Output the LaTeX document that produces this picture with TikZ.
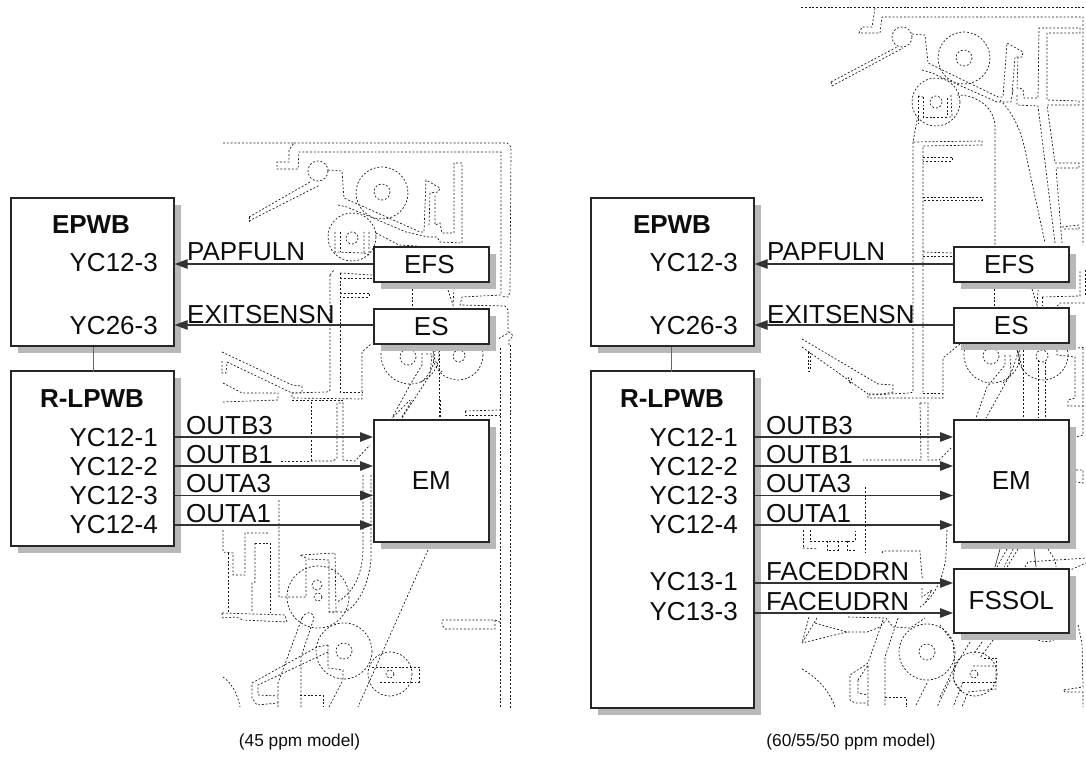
\documentclass[tikz,border=0pt]{standalone}
\usepackage{fontspec}
\setmainfont{Liberation Sans}
\usetikzlibrary{arrows.meta,calc}
\tikzset{
  px/.style={x=1pt,y=-1pt},
  panel/.style={draw=black!85,line width=1.6pt,fill=white},
  shadebox/.style={fill=black!28,draw=none},
  sig/.style={draw=black!80,line width=1.2pt,-{Triangle[length=13pt,width=9.5pt]}},
  lab/.style={inner sep=0pt,font=\fontsize{26}{26}\selectfont,text=black!95},
  capt/.style={inner sep=0pt,font=\fontsize{17.3}{20}\selectfont,text=black!95},
  mech/.style={draw=black!90,line width=.7pt,dash pattern=on 1.9pt off 1.9pt},
}
\newcommand{\boxat}[5]{% name x1 y1 x2 y2
  \fill[shadebox] (#2+8,#3+8) rectangle (#4+8,#5+8);
  \node[panel,anchor=north west,minimum width=#4pt-#2pt,minimum height=#5pt-#3pt,inner sep=0pt] (#1) at (#2,#3) {};
}
\begin{document}
\begin{tikzpicture}[px]
\useasboundingbox (0,0) rectangle (1086,759);
% left mechanism
\begin{scope}[mech]
\draw (223,143) -- (294,143) -- (289,150) -- (289,162) -- (277,162) -- (277,169) -- (298,169) -- (299,152) -- (501,152) -- (501,295) -- (462,297) -- (460,305) -- (505,306) -- (508,310) -- (508,332);
\draw (294,143) -- (507,143) -- (511,147) -- (510,292) -- (508,297) -- (501,296);
\draw (318,171) circle (10);
\draw (249,217) -- (310,182); \draw (249,221) -- (320,185); \draw (249,217) -- (249,221);
\draw (328,170) -- (342,171) -- (344,198) -- (420,232) -- (424,232) -- (426,180) -- (440,188) -- (438,192) -- (430,193) -- (429,227);
\draw (338,205) -- (347,207) -- (406,232) -- (428,237) -- (437,237) -- (440,242) -- (462,243) -- (462,163) -- (454,163) -- (454,233) -- (442,233) -- (440,223) -- (435,225) -- (435,195);
\draw (382,193) circle (26); \draw (382,192) circle (8);
\draw (352,237) circle (24); \draw (352,238) circle (6);
\draw (335,232) -- (335,252) -- (364,253) -- (364,232);
\draw (340,232) -- (340,252); \draw (369,232) -- (369,255) -- (364,253);
\draw (376,233) -- (399,245) -- (417,246);
\draw (330,275) -- (330,390) -- (327,392) -- (292,393) -- (292,398) -- (362,399) -- (362,352) -- (372,343);
\draw (340,273) -- (372,275); \draw (340,278) -- (372,278); \draw (340,273) -- (340,392) -- (362,392);
\draw (330,275) -- (334,270); \draw (340,293) -- (369,293) -- (369,297) -- (340,297);
\draw (412,289) -- (412,307); \draw (448,290) -- (453,305) -- (454,290);
\draw (222,352) -- (292,385) -- (302,386) -- (302,393) -- (292,393);
\draw (227,362) -- (292,393); \draw (222,361) -- (222,373) -- (226,373) -- (227,362);
\draw (223,383) -- (242,393) -- (278,393) -- (278,400) -- (222,402);
\draw (292,400) -- (344,400);
\draw (311,402) -- (311,461) -- (279,461); \draw (311,461) -- (333,461) -- (337,458) -- (337,403) -- (343,403) -- (343,460) -- (355,461) -- (370,445);
\draw (410,355) circle (29); \draw (408,357) circle (8);
\draw (458,355) circle (25); \draw (459,356) circle (6);
\draw (422,353) -- (422,365) -- (410,385) -- (392,418);
\draw (426,354) -- (432,354) -- (430,375) -- (402,418);
\draw (435,350) .. controls (435,365) and (430,375) .. (420,383);
\draw (439,350) -- (439,418);
\draw (433,350) .. controls (435,362) and (438,368) .. (442,372);
\draw (500,348) -- (500,708);
\draw (509,345) -- (509,340) -- (513,336) -- (510,332) -- (498,339);
\draw (510,345) -- (510,708);
\draw (465,411) -- (500,410); \draw (465,411) -- (465,415) -- (500,415);
% lower left
\draw (223,530) -- (223,552) -- (233,553) -- (233,575) -- (245,575) -- (245,533) -- (270,533);
\draw (255,543) -- (270,543) -- (270,613); \draw (255,543) -- (255,582) -- (252,583) -- (252,613);
\draw (279,500) -- (279,597) -- (306,597) -- (306,558) -- (300,555) -- (335,553) -- (336,612) -- (329,612) -- (329,560) -- (307,559);
\draw (228,553) -- (228,613); \draw (222,613) -- (285,615) -- (287,622) -- (243,620);
\draw (222,613) -- (223,618) -- (236,617) -- (243,620);
\draw (363,475) -- (363,550) .. controls (362,580) and (350,595) .. (337,602);
\draw (371,475) -- (371,560) .. controls (368,590) and (355,607) .. (345,612) -- (329,612);
\draw (318,597) circle (31); \draw (317,585) circle (5); \draw (318,597) circle (4);
\draw (344,651) circle (28); \draw (344,651) circle (8);
\draw (390,674) circle (22); \draw (390,674) circle (4);
\draw (372,667) -- (419,667) -- (419,682) -- (380,682);
\draw (428,550) -- (358,707);
\draw (302,618) -- (278,683) -- (278,707);
\draw (302,618) .. controls (305,612) and (312,610) .. (314,618) -- (301,657) -- (301,707);
\draw (329,707) -- (343,680);
\draw (328,645) -- (317,647) -- (252,683) -- (252,698) -- (257,705) -- (278,703);
\draw (328,652) -- (258,685) -- (258,695) -- (278,696);
\draw (328,645) -- (328,668) -- (343,670) -- (343,680);
\draw (300,695) -- (323,695) -- (323,707);
\draw (223,677) .. controls (232,683) and (238,695) .. (240,707);
\draw (442,620) -- (495,620) -- (495,629) -- (445,629) -- (442,625) -- cycle;
\draw (495,620) -- (500,622);
\draw (393,417) -- (410,400); \draw (402,417) -- (412,400);
\draw (440,400) -- (440,418);
\end{scope}
% right mechanism
\begin{scope}[mech]
\draw (801,7) -- (877,7) -- (1086,7);
\draw (875,8) -- (872,27) -- (862,27) -- (859,33) -- (880,33) -- (882,17) -- (1083,17) -- (1083,245);
\draw (902,37) circle (10);
\draw (831,82) -- (897,47); \draw (832,86) -- (903,48); \draw (831,82) -- (832,86);
\draw (912,34) -- (925,35) -- (928,63) -- (998,97) -- (1003,97) -- (1007,43) -- (1023,52) -- (1022,57) -- (1015,57) -- (1012,95);
\draw (922,70) -- (932,73) -- (997,102) -- (1011,102) -- (1013,90);
\draw (1018,57) -- (1017,88) -- (1023,89) -- (1024,98) -- (1038,98) -- (1039,28) -- (1080,28) -- (1080,33) -- (1047,33) -- (1047,100) -- (1079,101) -- (1079,105) -- (1047,105) -- (1055,163) -- (1079,163) -- (1079,168) -- (1056,168) -- (1062,243);
\draw (1062,227) -- (1079,225) -- (1079,229) -- (1062,229);
\draw (1017,95) -- (1017,105) -- (1038,106) -- (1055,243);
\draw (964,58) circle (26); \draw (964,58) circle (8);
\draw (936,102) circle (24); \draw (936,102) circle (6);
\draw (918,96) -- (918,123); \draw (923,97) -- (923,117) -- (947,117) -- (947,97);
\draw (918,96) -- (923,97); \draw (951,95) -- (952,117) -- (947,117);
\draw (957,95) .. controls (980,95) and (995,110) .. (995,127) -- (995,245);
\draw (1000,100) .. controls (1015,115) and (1022,135) .. (1025,150) -- (1045,243);
\draw (917,120) -- (913,142) -- (982,141) -- (982,145) -- (923,146) -- (923,392);
\draw (923,157) -- (952,157) -- (952,161) -- (923,161);
\draw (923,197) -- (982,197) -- (982,200) -- (923,200);
\draw (923,252) -- (952,253); \draw (923,256) -- (952,256);
\draw (913,142) -- (913,392) -- (910,393) -- (868,395) -- (868,398) -- (943,398) -- (943,358) -- (960,344);
\draw (923,393) -- (943,393);
\draw (802,339) -- (878,384) -- (893,385) -- (893,392) -- (883,394) -- (868,394);
\draw (802,347) -- (868,394);
\draw (808,352) -- (808,371) -- (810,371) -- (810,353);
\draw (848,377) -- (850,384) -- (852,378);
\draw (994,289) -- (994,307);
\draw (1032,289) -- (1037,305) -- (1038,290);
\draw (1042,297) -- (1080,296) -- (1080,270); \draw (1042,297) -- (1042,305);
\draw (1085,270) -- (1085,295);
\draw (1057,306) -- (1060,303) -- (1086,303);
\draw (992,355) circle (28); \draw (991,356) circle (8);
\draw (1043,355) circle (25); \draw (1042,356) circle (6);
\draw (1005,355) -- (1005,365) -- (987,387) -- (976,418);
\draw (1010,355) -- (1011,373) -- (986,418);
\draw (1018,351) .. controls (1015,365) and (1010,378) .. (1003,383);
\draw (1023,350) -- (1023,418);
\draw (1017,350) -- (1023,370);
\draw (1038,360) -- (1038,418); \draw (1045,362) -- (1045,418);
\draw (1057,350) -- (1057,355) -- (1075,357) -- (1075,398) -- (1068,400) -- (1068,406) -- (1086,406);
\draw (1078,348) -- (1086,347);
\draw (1083,348) -- (1083,435) -- (1076,437);
\draw (1076,470) -- (1083,470) -- (1083,483) -- (1076,482);
\draw (920,403) -- (928,403) -- (928,460) -- (939,460) -- (951,448);
\draw (920,403) -- (921,460) -- (863,460);
% lower right
\draw (803,530) -- (803,548); \draw (810,530) -- (810,541) -- (855,541) -- (855,530);
\draw (827,541) -- (827,550) -- (838,550) -- (838,541);
\draw (803,548) -- (818,549); \draw (847,541) -- (847,550); \draw (855,550) -- (847,550);
\draw (865,487) -- (865,553);
\draw (882,553) -- (883,551) -- (920,551) -- (922,577) -- (925,578);
\draw (922,588) -- (922,597) -- (932,590) -- (925,603);
\draw (947,530) -- (946,553) .. controls (945,575) and (935,597) .. (920,607);
\draw (848,617) -- (886,618) -- (893,627) -- (910,628) -- (925,618);
\draw (809,617) -- (802,643); \draw (817,618) -- (802,643); \draw (847,632) -- (802,643);
\draw (815,623) -- (847,632) -- (867,632) -- (880,627) -- (886,620);
\draw (883,620) -- (868,663) -- (850,675) -- (850,700) -- (855,703) -- (868,703);
\draw (858,680) -- (858,693) -- (868,695); \draw (858,680) -- (868,665) -- (868,707);
\draw (898,618) -- (885,657) -- (885,707);
\draw (885,697) -- (906,697) -- (906,707);
\draw (802,669) .. controls (818,678) and (830,692) .. (835,707);
\draw (927,652) circle (28); \draw (927,652) circle (8);
\draw (927,683) -- (915,707); \draw (950,680) -- (937,707);
\draw (970,642) -- (953,670) -- (940,697);
\draw (982,642) -- (973,655); \draw (993,640) -- (980,658);
\draw (975,674) circle (22); \draw (974,674) circle (4);
\draw (973,666) -- (996,666) -- (996,689) -- (968,692) -- (962,707);
\draw (963,682) -- (996,682); \draw (984,658) -- (996,658) -- (996,666);
\draw (963,682) -- (953,707);
\draw (940,625) -- (953,642) -- (955,667) -- (953,680) -- (963,693);
\draw (1078,625) -- (1082,643) -- (1083,687) -- (1063,690) -- (1065,692) -- (1083,692) -- (1083,707);
\draw (1038,640) .. controls (1042,642) and (1050,642) .. (1054,640);
\draw (1007,549) -- (997,567); \draw (1018,549) -- (1007,567); \draw (1013,549) -- (1004,567);
\draw (1048,549) -- (1055,560) -- (1056,567);
\draw (1025,567) -- (1028,562) -- (1086,558);
\draw (1068,571) -- (1086,563);
\end{scope}
\draw[black!80,line width=.7pt] (1000,549) -- (995,567);
\draw[black!80,line width=.7pt] (1034,549) -- (1036,567);
% shaded boxes and panels
\boxat{epwbL}{10}{197}{173}{345}
\boxat{rlpL}{10}{370}{173}{545}
\boxat{efsL}{373}{246}{488}{281}
\boxat{esL}{373}{308}{488}{343}
\boxat{emL}{373}{419}{488}{541}
\boxat{epwbR}{590}{197}{753}{345}
\boxat{rlpR}{590}{370}{753}{707}
\boxat{efsR}{953}{246}{1068}{281}
\boxat{esR}{953}{307}{1068}{342}
\boxat{emR}{953}{419}{1068}{541}
\boxat{fsR}{953}{568}{1068}{632}
% link between boards
\draw[black!60,line width=.9pt] (epwbL.south) ++(1.5,0) -- ++(0,25);
\draw[black!60,line width=.9pt] (epwbR.south) ++(-0.5,0) -- ++(0,25);
% left signals
\draw[sig] (efsL.west |- 0,264) -- (epwbL.east |- 0,264);
\draw[sig] (esL.west |- 0,325) -- (epwbL.east |- 0,325);
\foreach \yy in {437,466,495.5,525} \draw[sig] (rlpL.east |- 0,\yy) -- (emL.west |- 0,\yy);
% right signals
\draw[sig] (efsR.west |- 0,264) -- (epwbR.east |- 0,264);
\draw[sig] (esR.west |- 0,325) -- (epwbR.east |- 0,325);
\foreach \yy in {437,466,495.5,525} \draw[sig] (rlpR.east |- 0,\yy) -- (emR.west |- 0,\yy);
\draw[sig] (rlpR.east |- 0,583) -- (fsR.west |- 0,583);
\draw[sig] (rlpR.east |- 0,613) -- (fsR.west |- 0,613);
% texts left
\node[lab,anchor=base] (tl0) at (91,234) {\textbf{EPWB}};
\node[lab,anchor=base east] (t1) at (158,272) {YC12-3};
\node[lab,anchor=base east] (t2) at (158,334) {YC26-3};
\node[lab,anchor=base] (tl1) at (92,407) {\textbf{R-LPWB}};
\node[lab,anchor=base east] (t3) at (158,446) {YC12-1};
\node[lab,anchor=base east] (t4) at (158,475) {YC12-2};
\node[lab,anchor=base east] (t5) at (158,504) {YC12-3};
\node[lab,anchor=base east] (t6) at (158,533) {YC12-4};
\node[lab,anchor=base west] (s1) at (187,261) {PAPFULN};
\node[lab,anchor=base west] (s2) at (187,323) {EXITSENSN};
\node[lab,anchor=base west] (s3) at (186,434) {OUTB3};
\node[lab,anchor=base west] (s4) at (186,463) {OUTB1};
\node[lab,anchor=base west] (s5) at (186,492) {OUTA3};
\node[lab,anchor=base west] (s6) at (186,522) {OUTA1};
\node[lab] (l1) at ([xshift=-2pt]efsL.center) {EFS};
\node[lab] (l2) at (esL.center) {ES};
\node[lab] (l3) at (emL.center) {EM};
\node[capt] (c1) at (299.5,742) {(45 ppm model)};
% texts right
\node[lab,anchor=base] (tr0) at (672,234) {\textbf{EPWB}};
\node[lab,anchor=base east] (r1) at (738,272) {YC12-3};
\node[lab,anchor=base east] (r2) at (738,334) {YC26-3};
\node[lab,anchor=base] (tr1) at (672,407) {\textbf{R-LPWB}};
\node[lab,anchor=base east] (r3) at (738,446) {YC12-1};
\node[lab,anchor=base east] (r4) at (738,475) {YC12-2};
\node[lab,anchor=base east] (r5) at (738,504) {YC12-3};
\node[lab,anchor=base east] (r6) at (738,533) {YC12-4};
\node[lab,anchor=base east] (r7) at (738,590) {YC13-1};
\node[lab,anchor=base east] (r8) at (738,620) {YC13-3};
\node[lab,anchor=base west] (q1) at (767,261) {PAPFULN};
\node[lab,anchor=base west] (q2) at (767,323) {EXITSENSN};
\node[lab,anchor=base west] (q3) at (766,434) {OUTB3};
\node[lab,anchor=base west] (q4) at (766,463) {OUTB1};
\node[lab,anchor=base west] (q5) at (766,492) {OUTA3};
\node[lab,anchor=base west] (q6) at (766,522) {OUTA1};
\node[lab,anchor=base west] (q7) at (766,580) {FACEDDRN};
\node[lab,anchor=base west] (q8) at (766,610) {FACEUDRN};
\node[lab] (k1) at ([xshift=-2pt]efsR.center) {EFS};
\node[lab] (k2) at (esR.center) {ES};
\node[lab] (k3) at (emR.center) {EM};
\node[lab] (k4) at (fsR.center) {FSSOL};
\node[capt] (c2) at (851,742) {(60/55/50 ppm model)};
\end{tikzpicture}
\end{document}
